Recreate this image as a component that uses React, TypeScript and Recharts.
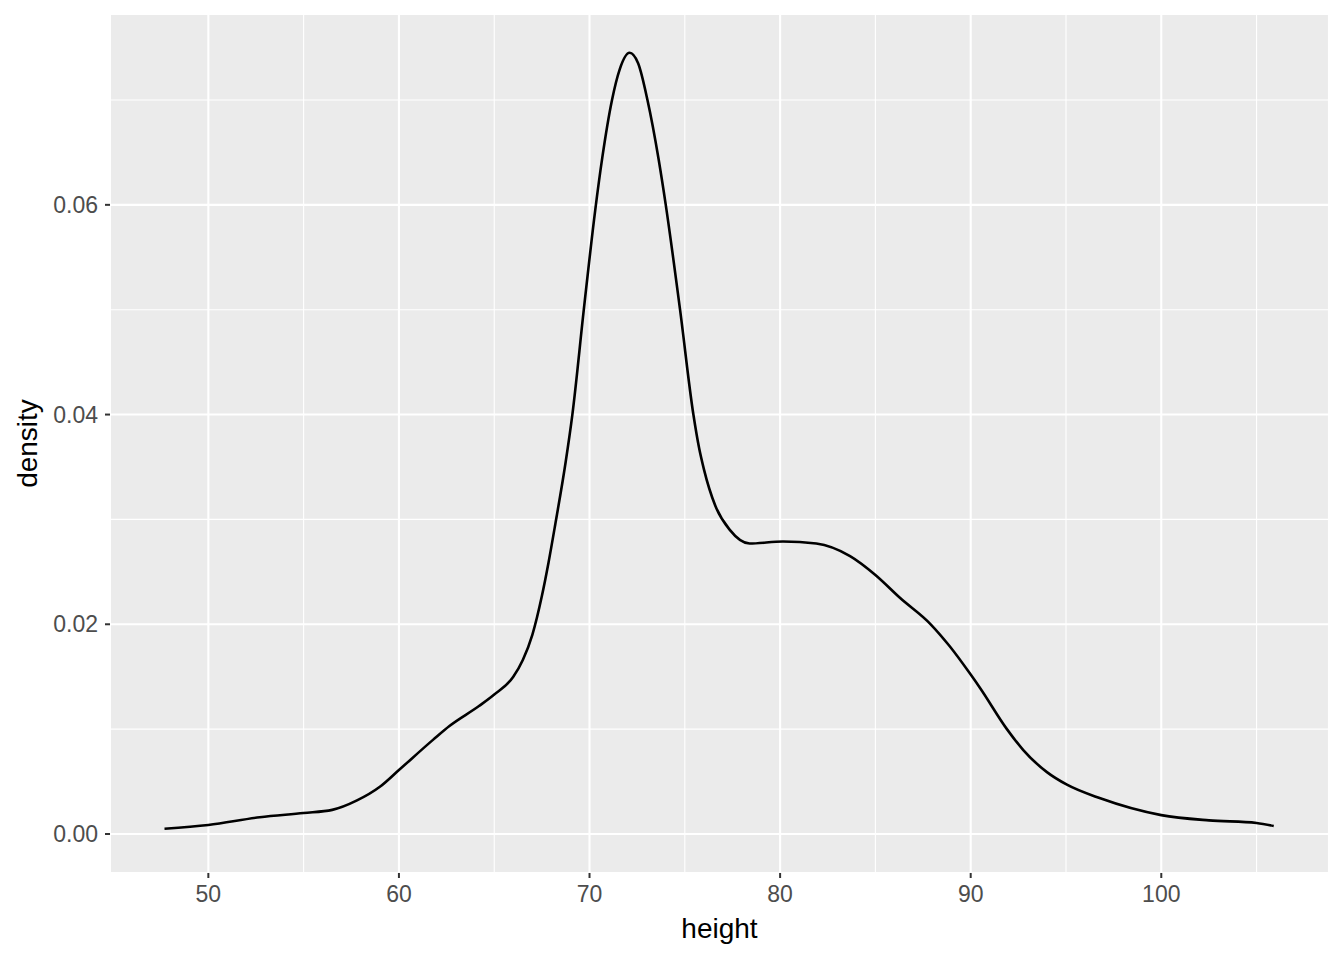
import { LineChart, Line, XAxis, YAxis, CartesianGrid, ReferenceLine } from "recharts";

// density estimate
const heights = [
  47.7, 50, 52.7, 55, 56.5, 57.8, 59, 60, 61.8, 62.65, 64.2, 65, 66.0, 66.5, 67.0, 67.5, 67.85, 68.2,
  68.75, 69.1, 69.7, 70.3, 70.67, 71.18, 71.58, 72.1, 72.55, 73.04, 73.63, 74.0, 74.75, 75.45, 75.75,
  76.0, 76.6, 77.36, 78.4, 80.15, 81.9, 83.67, 85, 86.3, 87.9, 88.9, 90, 90.5, 91.9, 92.76, 94.0, 95.05,
  96.8, 100, 102.5, 105, 105.9,
];
const densities = [
  0.0005, 0.00086, 0.0016, 0.002, 0.0023, 0.0032, 0.0045, 0.0061, 0.009, 0.0103, 0.0122, 0.0133,
  0.015, 0.0166, 0.019, 0.0227, 0.0259, 0.0295, 0.0355, 0.04, 0.05, 0.0595, 0.0645, 0.07, 0.0729,
  0.0745, 0.0735, 0.07, 0.0643, 0.06, 0.05, 0.04, 0.0368, 0.0348, 0.0313, 0.029, 0.0277, 0.0279,
  0.0277, 0.0265, 0.0247, 0.0225, 0.02, 0.0179, 0.0152, 0.0139, 0.01, 0.008, 0.0059, 0.0047, 0.0034,
  0.0018, 0.0013, 0.00105, 0.00076,
];

const xTicks = [50, 60, 70, 80, 90, 100];
const xMinor = [55, 65, 75, 85, 95, 105];
const yTicks = [0, 0.02, 0.04, 0.06];
const yMinor = [0.01, 0.03, 0.05, 0.07];

const data = heights.map((h, i) => ({ height: h, density: densities[i] }));

const font = "'Liberation Sans', Arial, sans-serif";
const tickStyle = { fill: "#4D4D4D", fontSize: 23, fontFamily: font };

export default function App() {
  return (
    <div style={{ position: "absolute", left: 0, top: 0, width: 1344, height: 960, background: "#fff" }}>
      <LineChart width={1344} height={960} data={data} margin={{ top: 14, right: 15, bottom: 0, left: 0 }}>
        <CartesianGrid fill="#EBEBEB" stroke="#FFFFFF" strokeWidth={2.1} strokeDasharray="" />
        <XAxis
          dataKey="height"
          type="number"
          domain={[44.84, 108.8]}
          allowDataOverflow
          ticks={xTicks}
          height={87}
          axisLine={false}
          tickLine={{ stroke: "#333333", strokeWidth: 2 }}
          tickSize={5}
          tickMargin={8}
          tick={tickStyle}
          label={{ value: "height", position: "insideBottom", offset: 22, fontSize: 28, fill: "#000", fontFamily: font }}
        />
        <YAxis
          dataKey="density"
          type="number"
          domain={[-0.00372, 0.0782]}
          allowDataOverflow
          ticks={yTicks}
          width={110}
          axisLine={false}
          tickLine={{ stroke: "#333333", strokeWidth: 2 }}
          tickSize={5}
          tickMargin={7}
          tick={tickStyle}
          tickFormatter={(v: number) => v.toFixed(2)}
          label={{
            value: "density",
            angle: -90,
            position: "insideLeft",
            offset: 27,
            fontSize: 28,
            fill: "#000",
            fontFamily: font,
            style: { textAnchor: "middle" },
          }}
        />
        {xMinor.map((v) => (
          <ReferenceLine key={"x" + v} x={v} stroke="#FFFFFF" strokeWidth={1.1} ifOverflow="hidden" />
        ))}
        {yMinor.map((v) => (
          <ReferenceLine key={"y" + v} y={v} stroke="#FFFFFF" strokeWidth={1.1} ifOverflow="hidden" />
        ))}
        <Line
          type="monotone"
          dataKey="density"
          stroke="#000000"
          strokeWidth={2.6}
          dot={false}
          activeDot={false}
          isAnimationActive={false}
        />
      </LineChart>
    </div>
  );
}
